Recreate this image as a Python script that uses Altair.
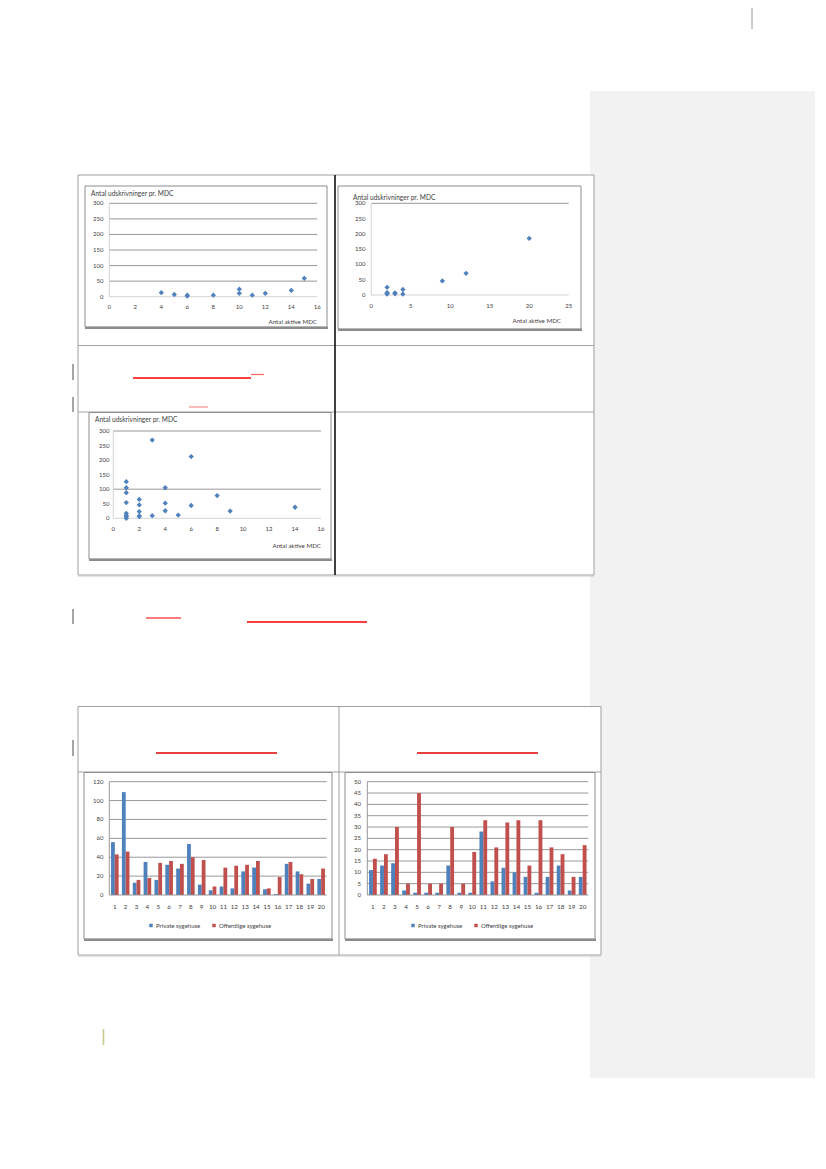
import altair as alt
import pandas as pd

FONT = "Lato"
OFF = 8
BLUE = "#4f81bd"
RED = "#c0504d"
GRID = "#8c8c8c"
TXT = "#404040"


def px(v):
    return v - OFF


# ---------------- data ----------------
title_y = "Antal udskrivninger pr. MDC"
title_x = "Antal aktive MDC"

sc1_x = [4, 5, 6, 6, 8, 10, 10, 11, 12, 14, 15]
sc1_y = [13, 7, 5, 2, 5, 24, 11, 5, 11, 20, 59]

sc2_x = [2, 2, 2, 2, 3, 3, 4, 4, 9, 12, 20]
sc2_y = [25, 8, 5, 3, 7, 4, 18, 3, 46, 71, 185]

sc3_x = [1, 1, 1, 1, 1, 1, 1, 1, 2, 2, 2, 2, 2, 3, 3, 4, 4, 4, 5, 6, 6, 8, 9, 14]
sc3_y = [126, 105, 88, 54, 17, 10, 6, 0, 65, 46, 23, 8, 6, 269, 9, 105, 52, 26, 11, 212, 44, 78, 25, 38]

sc_yticks = [0, 50, 100, 150, 200, 250, 300]
sc1_xticks = [0, 2, 4, 6, 8, 10, 12, 14, 16]
sc2_xticks = [0, 5, 10, 15, 20, 25]
sc3_xticks = [0, 2, 4, 6, 8, 10, 12, 14, 16]
sc1_grid = [50, 100, 150, 200, 250, 300]
sc2_grid = [300]
sc3_grid = [100, 300]

categories = list(range(1, 21))
series_names = ["Private sygehuse", "Offentlige sygehuse"]
bar1_private = [56, 109, 13, 35, 16, 32, 28, 54, 11, 5, 9, 7, 25, 29, 6, 1, 33, 25, 12, 17]
bar1_public = [43, 46, 16, 18, 34, 36, 33, 40, 37, 9, 29, 31, 32, 36, 7, 19, 35, 22, 17, 28]
bar2_private = [11, 13, 14, 2, 1, 1, 1, 13, 1, 1, 28, 6, 12, 10, 8, 1, 8, 13, 2, 8]
bar2_public = [16, 18, 30, 5, 45, 5, 5, 30, 5, 19, 33, 21, 32, 33, 13, 33, 21, 18, 8, 22]
bar1_yticks = [0, 20, 40, 60, 80, 100, 120]
bar2_yticks = [0, 5, 10, 15, 20, 25, 30, 35, 40, 45, 50]

# ---------------- layout (page pixels) ----------------
L = {
    "sc1": dict(xr=(109.3, 317.3), yr=(296.7, 203.3), xdom=(0, 16), ylab=103.5, xlab=307, title=(91, 194), xt=(317, 321.5)),
    "sc2": dict(xr=(371.3, 568.7), yr=(295.0, 203.3), xdom=(0, 25), ylab=365.5, xlab=306, title=(353, 198), xt=(561, 321)),
    "sc3": dict(xr=(113.3, 321.0), yr=(518.3, 431.0), xdom=(0, 16), ylab=109.5, xlab=528.5, title=(95, 420), xt=(321, 546)),
    "bar1": dict(xr=(109.3, 326.7), yr=(895.0, 781.7), ydom=(0, 120), ylab=103.5, xlab=907, leg=(148, 922.5)),
    "bar2": dict(xr=(367.3, 588.3), yr=(895.0, 781.7), ydom=(0, 50), ylab=361, xlab=907, leg=(410, 922.5)),
}

ONE = pd.DataFrame({"k": [0]})


def rect(x0, y0, x1, y1, **kw):
    return alt.Chart(ONE).mark_rect(**kw).encode(
        x=alt.value(px(x0)), x2=alt.value(px(x1)), y=alt.value(px(y0)), y2=alt.value(px(y1)))


def hline(x0, x1, y, color, w=1.0, opacity=1.0):
    return alt.Chart(ONE).mark_rule(color=color, strokeWidth=w, opacity=opacity).encode(
        x=alt.value(px(x0)), x2=alt.value(px(x1)), y=alt.value(px(y)))


def vline(x, y0, y1, color, w=1.0):
    return alt.Chart(ONE).mark_rule(color=color, strokeWidth=w).encode(
        x=alt.value(px(x)), y=alt.value(px(y0)), y2=alt.value(px(y1)))


def label(text, x, y, align="left", size=6.5, color=TXT):
    return alt.Chart(ONE).mark_text(text=text, align=align, baseline="middle", font=FONT,
                                    fontSize=size, color=color, fontWeight="normal").encode(
        x=alt.value(px(x)), y=alt.value(px(y)))


def box(x0, y0, x1, y1):
    return [rect(x0, y0, x1, y1, fill="white", stroke="#8c8c8c", strokeWidth=1),
            hline(x0, x1 + 1, y1 + 0.8, "#8c8c8c", 2.2)]


def scatter(xs, ys, xticks, grid_vals, cfg, gridcolor=GRID, axis0=True):
    xs_ = alt.Scale(domain=list(cfg["xdom"]), range=[px(cfg["xr"][0]), px(cfg["xr"][1])], nice=False, zero=False)
    ys_ = alt.Scale(domain=[0, 300], range=[px(cfg["yr"][0]), px(cfg["yr"][1])], nice=False)
    out = []
    out.append(alt.Chart(pd.DataFrame({"v": grid_vals})).mark_rule(color=gridcolor, strokeWidth=0.9).encode(
        y=alt.Y("v:Q", scale=ys_, axis=None), x=alt.value(px(cfg["xr"][0])), x2=alt.value(px(cfg["xr"][1]))))
    if axis0:
        out.append(alt.Chart(pd.DataFrame({"v": [0]})).mark_rule(color="#c8c8c8", strokeWidth=0.8).encode(
            y=alt.Y("v:Q", scale=ys_, axis=None), x=alt.value(px(cfg["xr"][0])), x2=alt.value(px(cfg["xr"][1]))))
    out.append(vline(cfg["xr"][0], cfg["yr"][1], cfg["yr"][0], "#c8c8c8", 0.8))
    out.append(alt.Chart(pd.DataFrame({"v": sc_yticks})).mark_text(align="right", baseline="middle", font=FONT, fontSize=6, color=TXT).encode(
        y=alt.Y("v:Q", scale=ys_, axis=None), x=alt.value(px(cfg["ylab"])), text="v:Q"))
    out.append(alt.Chart(pd.DataFrame({"v": xticks})).mark_text(align="center", baseline="middle", font=FONT, fontSize=6, color=TXT).encode(
        x=alt.X("v:Q", scale=xs_, axis=None), y=alt.value(px(cfg["xlab"])), text="v:Q"))
    out.append(alt.Chart(pd.DataFrame({"x": xs, "y": ys})).mark_point(shape="diamond", filled=True, size=28, color=BLUE, opacity=1).encode(
        x=alt.X("x:Q", scale=xs_, axis=None), y=alt.Y("y:Q", scale=ys_, axis=None)))
    out.append(label(title_y, cfg["title"][0], cfg["title"][1], size=6.6))
    out.append(label(title_x, cfg["xt"][0], cfg["xt"][1], align="right", size=6.2))
    return out


def bars(priv, pub, yticks, cfg):
    rows = []
    for c, a, b in zip(categories, priv, pub):
        rows.append({"cat": c, "series": series_names[0], "val": a})
        rows.append({"cat": c, "series": series_names[1], "val": b})
    df = pd.DataFrame(rows)
    xs_ = alt.Scale(domain=categories, range=[px(cfg["xr"][0]), px(cfg["xr"][1])], paddingInner=0.3, paddingOuter=0.16)
    ys_ = alt.Scale(domain=list(cfg["ydom"]), range=[px(cfg["yr"][0]), px(cfg["yr"][1])], nice=False)
    out = []
    out.append(alt.Chart(pd.DataFrame({"v": yticks[1:]})).mark_rule(color=GRID, strokeWidth=0.9).encode(
        y=alt.Y("v:Q", scale=ys_, axis=None), x=alt.value(px(cfg["xr"][0])), x2=alt.value(px(cfg["xr"][1]))))
    out.append(alt.Chart(pd.DataFrame({"v": yticks})).mark_text(align="right", baseline="middle", font=FONT, fontSize=6, color=TXT).encode(
        y=alt.Y("v:Q", scale=ys_, axis=None), x=alt.value(px(cfg["ylab"])), text="v:Q"))
    out.append(alt.Chart(pd.DataFrame({"c": categories})).mark_text(align="center", baseline="middle", font=FONT, fontSize=6.3, color=TXT).encode(
        x=alt.X("c:O", scale=xs_, axis=None), y=alt.value(px(cfg["xlab"])), text="c:O"))
    out.append(alt.Chart(df).mark_bar(stroke=None).encode(
        x=alt.X("cat:O", scale=xs_, axis=None),
        xOffset=alt.XOffset("series:N", scale=alt.Scale(domain=series_names, paddingInner=0, paddingOuter=0)),
        y=alt.Y("val:Q", scale=ys_, axis=None),
        color=alt.Color("series:N", scale=alt.Scale(domain=series_names, range=[BLUE, RED]),
                        legend=alt.Legend(orient="none", legendX=px(cfg["leg"][0]), legendY=px(cfg["leg"][1]),
                                          direction="horizontal", title=None, symbolType="square",
                                          symbolSize=12, symbolStrokeWidth=0, labelFont=FONT, labelFontSize=6,
                                          labelColor=TXT, columnPadding=10, labelOffset=2, padding=0)),
    ))
    out.append(vline(cfg["xr"][0], cfg["yr"][1], cfg["yr"][0], GRID, 0.9))
    out.append(hline(cfg["xr"][0], cfg["xr"][1], cfg["yr"][0], GRID, 0.9))
    return out


layers = []
# side panel
layers.append(rect(590, 91, 815, 1078, fill="#f2f2f2"))
layers.append(vline(752, 0, 29, "#9a9a9a", 1))

# top table
layers.append(rect(78, 175, 594, 575, fill="white", stroke="#a0a0a0", strokeWidth=1))
layers.append(hline(78, 594, 576, "#c8c8c8", 1.2))
layers.append(hline(78, 594, 345.5, "#a0a0a0", 1))
layers.append(hline(78, 594, 412, "#a0a0a0", 1))
layers.append(vline(335, 175, 575, "#111111", 1.6))
layers += box(85, 186, 327, 327)
layers += box(338, 186, 581, 329)
layers += box(89, 412.5, 331, 559)

# bottom table
layers.append(rect(78, 706.5, 601, 955, fill="white", stroke="#a0a0a0", strokeWidth=1))
layers.append(hline(78, 601, 956, "#c8c8c8", 1.2))
layers.append(hline(78, 601, 772, "#a0a0a0", 1))
layers.append(vline(339, 706.5, 955, "#a0a0a0", 1))
layers += box(84, 772.5, 332, 939)
layers += box(345, 772.5, 595, 939)

# margin marks & underlines
for y0, y1 in [(364, 380), (397, 412), (609, 624), (740, 756)]:
    layers.append(vline(73, y0, y1, "#a6a6a6", 2))
layers.append(vline(103.5, 1029, 1045, "#c9c98a", 1.6))
layers.append(hline(133, 251, 378, "#ff0000", 1.5))
layers.append(hline(251, 264, 374.5, "#ff6060", 1.2))
layers.append(hline(189, 208, 407, "#f4a4a4", 1.5))
layers.append(hline(146, 181, 618, "#ff5050", 1.3))
layers.append(hline(247, 367, 622, "#ff0000", 1.5))
layers.append(hline(156, 277, 753, "#e00000", 1.5))
layers.append(hline(417, 538, 753, "#e00000", 1.5))

# charts
layers += scatter(sc1_x, sc1_y, sc1_xticks, sc1_grid, L["sc1"], axis0=True)
layers += scatter(sc2_x, sc2_y, sc2_xticks, sc2_grid, L["sc2"], axis0=True)
layers += scatter(sc3_x, sc3_y, sc3_xticks, sc3_grid, L["sc3"], axis0=True)
layers += bars(bar1_private, bar1_public, bar1_yticks, L["bar1"])
layers += bars(bar2_private, bar2_public, bar2_yticks, L["bar2"])

chart = alt.layer(*layers).resolve_scale(
    x="independent", y="independent", color="independent", xOffset="independent"
).properties(
    width=810, height=1153, padding=0, autosize=alt.AutoSizeParams(type="none"),
    background="white",
).configure_view(stroke=None)

chart.save("out.html", embed_options={"renderer": "svg", "actions": False})
